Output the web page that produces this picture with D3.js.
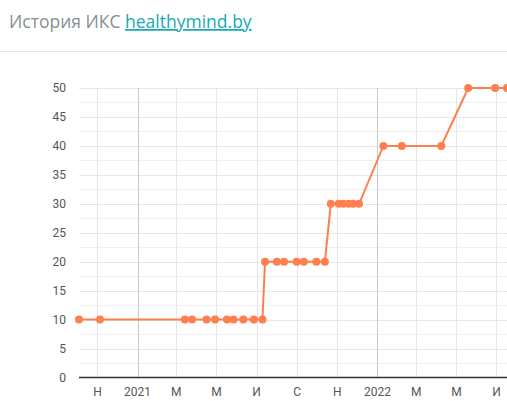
<!DOCTYPE html>
<html>
<head>
<meta charset="utf-8">
<script src="https://cdn.jsdelivr.net/npm/d3@7"></script>
<style>
  body { margin: 0; background: #fff; font-family: Roboto, "Open Sans", sans-serif; }
</style>
</head>
<body>
<script>
// даты и значения ИКС
var dates = [
  '2020-10-04', '2020-11-05',
  '2021-03-14', '2021-03-25', '2021-04-16', '2021-04-29', '2021-05-17', '2021-05-27', '2021-06-11', '2021-06-27', '2021-07-10',
  '2021-07-14', '2021-08-01', '2021-08-12', '2021-08-31', '2021-09-11', '2021-09-30', '2021-10-13',
  '2021-10-22', '2021-11-03', '2021-11-10', '2021-11-18', '2021-11-25', '2021-12-04',
  '2022-01-10', '2022-02-07', '2022-04-08',
  '2022-05-19', '2022-06-29', '2022-07-17'
];
var iks = [
  10, 10,
  10, 10, 10, 10, 10, 10, 10, 10, 10,
  20, 20, 20, 20, 20, 20, 20,
  30, 30, 30, 30, 30, 30,
  40, 40, 40,
  50, 50, 50
];
var yTicks = [0, 5, 10, 15, 20, 25, 30, 35, 40, 45, 50];
var monthNames = ['Я', 'Ф', 'М', 'А', 'М', 'И', 'И', 'А', 'С', 'О', 'Н', 'Д'];

var parse = d3.timeParse('%Y-%m-%d');
var data = dates.map(function(d, i){ return { date: parse(d), value: iks[i] }; });

var W = 507, H = 401;
var svg = d3.select('body').append('svg').attr('width', W).attr('height', H);

// заголовок
var title = svg.append('text').attr('x', 9).attr('y', 28)
    .style('font-family', '"Open Sans", sans-serif')
    .style('font-size', '17.5px');
title.append('tspan').attr('fill', '#858f91').text('История ИКС ');
title.append('tspan').attr('fill', '#17a9b5').attr('text-decoration', 'underline').text('healthymind.by');

svg.append('line').attr('x1', 0).attr('x2', W).attr('y1', 51.5).attr('y2', 51.5)
    .attr('stroke', '#e6e6e6');

var x = d3.scaleTime()
    .domain([parse('2020-10-04'), parse('2022-07-17')])
    .range([79, 507]);
var y = d3.scaleLinear().domain([0, 50]).range([377.5, 88]);

var ticks = d3.timeMonth.every(2).range(x.domain()[0], x.domain()[1]);

// горизонтальная сетка
svg.selectAll('line.hgrid')
    .data(d3.range(2.5, 50.1, 2.5))
    .enter().append('line')
    .attr('class', 'hgrid')
    .attr('x1', 79).attr('x2', W)
    .attr('y1', function(d){ return Math.round(y(d)) + 0.5; })
    .attr('y2', function(d){ return Math.round(y(d)) + 0.5; })
    .attr('stroke', function(d){ return d % 5 == 0 ? '#e6e6e6' : '#f0f0f0'; });

// вертикальная сетка
svg.selectAll('line.vgrid')
    .data(ticks)
    .enter().append('line')
    .attr('class', 'vgrid')
    .attr('x1', function(d){ return Math.round(x(d)) + 0.5; })
    .attr('x2', function(d){ return Math.round(x(d)) + 0.5; })
    .attr('y1', 88).attr('y2', 377)
    .attr('stroke', function(d){ return d.getMonth() == 0 ? '#c8c8c8' : '#e6e6e6'; });

// ось Y
svg.selectAll('text.ylab')
    .data(yTicks)
    .enter().append('text')
    .attr('class', 'ylab')
    .attr('x', 66)
    .attr('y', function(d){ return y(d) + 4; })
    .attr('text-anchor', 'end')
    .attr('fill', '#555')
    .style('font-size', '12px')
    .text(function(d){ return d; });

// ось X
svg.append('line').attr('x1', 79).attr('x2', W).attr('y1', 377.5).attr('y2', 377.5)
    .attr('stroke', '#333').attr('stroke-width', 1.5);

svg.selectAll('text.xlab')
    .data(ticks)
    .enter().append('text')
    .attr('class', 'xlab')
    .attr('x', function(d){ return x(d); })
    .attr('y', 396)
    .attr('text-anchor', 'middle')
    .attr('fill', '#555')
    .style('font-size', '12px')
    .text(function(d){ return d.getMonth() == 0 ? d.getFullYear() : monthNames[d.getMonth()]; });

// линия
var line = d3.line()
    .x(function(d){ return x(d.date); })
    .y(function(d){ return y(d.value); });

svg.append('path')
    .datum(data)
    .attr('d', line)
    .attr('fill', 'none')
    .attr('stroke', '#ff7f50')
    .attr('stroke-width', 2);

svg.selectAll('circle')
    .data(data)
    .enter().append('circle')
    .attr('cx', function(d){ return x(d.date); })
    .attr('cy', function(d){ return y(d.value); })
    .attr('r', 4)
    .attr('fill', '#ff7f50');
</script>
</body>
</html>
